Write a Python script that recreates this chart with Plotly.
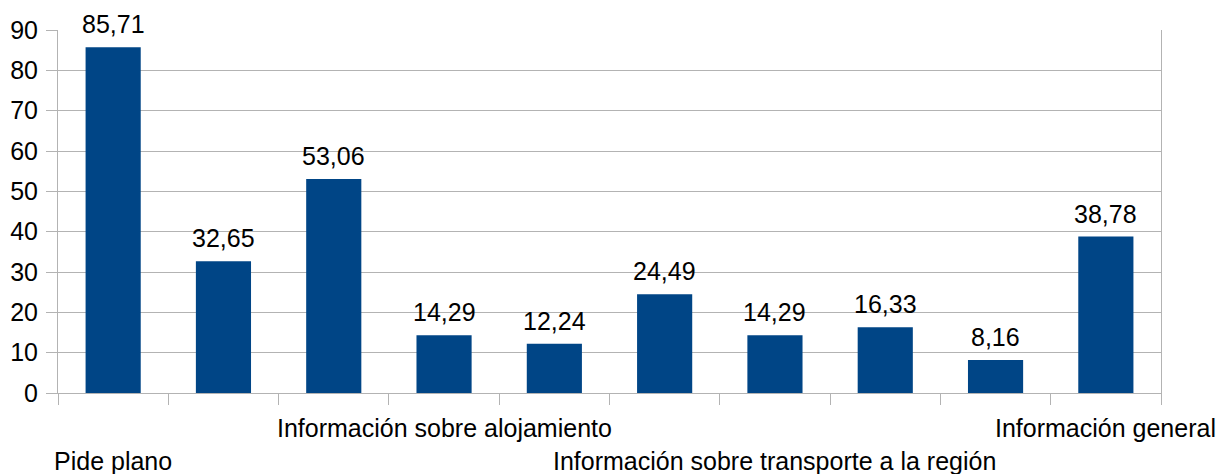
import plotly.graph_objects as go

# Category names (only those legible in the reference are filled in)
categories = [
    "Pide plano", "", "", "Información sobre alojamiento", "", "",
    "Información sobre transporte a la región", "", "", "Información general",
]
values = [85.71, 32.65, 53.06, 14.29, 12.24, 24.49, 14.29, 16.33, 8.16, 38.78]
y_ticks = [0, 10, 20, 30, 40, 50, 60, 70, 80, 90]

GRID = "#b3b3b3"
BAR = "#004586"
FONT = "Liberation Sans"
FS = 25

x = list(range(len(values)))
labels = [f"{v:.2f}".replace(".", ",") for v in values]

fig = go.Figure(
    go.Bar(
        x=x,
        y=values,
        width=0.5,
        marker=dict(color=BAR, line=dict(width=0)),
        hoverinfo="skip",
    )
)

annotations = []
# value labels above bars
for xi, v, lab in zip(x, values, labels):
    annotations.append(
        dict(
            x=xi, xref="x", y=v, yref="y",
            yanchor="bottom", xanchor="center", yshift=7,
            text=lab, showarrow=False,
            font=dict(size=FS, color="black", family=FONT),
        )
    )
# staggered category labels
for i, name in enumerate(categories):
    if not name:
        continue
    lower = (i % 2 == 0)
    annotations.append(
        dict(
            x=i, xref="x", y=0, yref="paper",
            yanchor="top", xanchor="center",
            yshift=-52 if lower else -19,
            text=name, showarrow=False,
            font=dict(size=FS, color="black", family=FONT),
        )
    )

fig.update_layout(
    width=1221,
    height=474,
    margin=dict(l=58, r=60, t=30, b=81, pad=0),
    paper_bgcolor="white",
    plot_bgcolor="white",
    font=dict(family=FONT, size=FS, color="black"),
    showlegend=False,
    annotations=annotations,
    xaxis=dict(
        range=[-0.5, len(values) - 0.5],
        tickvals=[i - 0.5 for i in range(len(values) + 1)],
        ticktext=[""] * (len(values) + 1),
        ticks="outside", ticklen=11, tickcolor=GRID, tickwidth=1,
        showline=True, linecolor=GRID, linewidth=1,
        showgrid=False, zeroline=False, fixedrange=True, automargin=False,
    ),
    yaxis=dict(
        range=[0, 90],
        tickvals=y_ticks,
        ticks="outside", ticklen=11, tickcolor=GRID, tickwidth=1,
        showline=True, mirror=True, linecolor=GRID, linewidth=1,
        showgrid=True, gridcolor=GRID, gridwidth=1,
        zeroline=False, automargin=False, fixedrange=True,
        tickfont=dict(size=FS, color="black", family=FONT),
        ticklabelstandoff=3,
    ),
)

fig.write_html(
    "out.html",
    config={"displayModeBar": False, "staticPlot": True},
    post_script="document.body.style.margin='0';document.body.style.overflow='hidden';",
)
